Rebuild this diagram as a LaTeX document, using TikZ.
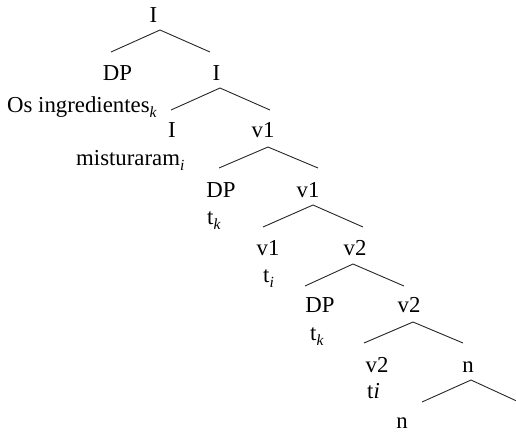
\documentclass[tikz,border=0pt]{standalone}
\usepackage{fontspec}
\setmainfont{Liberation Serif}
\newcommand{\lowsub}[1]{\raisebox{-0.22em}{\fontsize{15.5}{15.5}\selectfont\itshape #1}}
\begin{document}
\begin{tikzpicture}[x=1pt,y=-1pt,
  lab/.style={inner sep=0pt,anchor=base,font=\fontsize{22.8}{26}\selectfont},
  labw/.style={inner sep=0pt,anchor=base west,font=\fontsize{22.8}{26}\selectfont},
  branch/.style={draw=black!85,line width=0.9pt}]
\useasboundingbox (0,0) rectangle (516,432);
\clip (0,0) rectangle (516,432);
% labels
\node[lab] (I0) at (153.5,22.5) {I};
\node[lab] (DP1) at (117.5,80.5) {DP};
\node[lab] (I1) at (216.5,80.5) {I};
\node[labw] (os) at (7,112) {Os ingredientes\lowsub{k}};
\node[lab] (I2) at (172,137.5) {I};
\node[lab] (v12) at (263,137.5) {v1};
\node[labw] (mis) at (76,165) {misturaram\lowsub{i}};
\node[lab] (DP3) at (221,197.5) {DP};
\node[lab] (v13) at (308,197.5) {v1};
\node[labw] (tk3) at (207,224) {t\lowsub{k}};
\node[lab] (v14) at (268,255.5) {v1};
\node[lab] (v24) at (355,255.5) {v2};
\node[labw] (ti4) at (263,282) {t\lowsub{i}};
\node[lab] (DP5) at (320,312.5) {DP};
\node[lab] (v25) at (409,312.5) {v2};
\node[labw] (tk5) at (310,340) {t\lowsub{k}};
\node[lab] (v26) at (377,372.5) {v2};
\node[lab] (n6) at (468,372.5) {n};
\node[labw] (ti6) at (367,398) {t\textit{i}};
\node[lab] (n7) at (402,428) {n};
% branch points
\coordinate (a0) at (160,30);  \coordinate (l0) at (111,52);  \coordinate (r0) at (210,52);
\coordinate (a1) at (220,88);  \coordinate (l1) at (171,110); \coordinate (r1) at (270,110);
\coordinate (a2) at (268,147); \coordinate (l2) at (219,168); \coordinate (r2) at (318,168);
\coordinate (a3) at (313,205); \coordinate (l3) at (263,227); \coordinate (r3) at (363,227);
\coordinate (a4) at (353,264); \coordinate (l4) at (305,286); \coordinate (r4) at (404,286);
\coordinate (a5) at (413,322); \coordinate (l5) at (364,343); \coordinate (r5) at (463,343);
\coordinate (a6) at (471,380); \coordinate (l6) at (422,402); \coordinate (r6) at (521,403);
\foreach \i in {0,...,6}{
  \draw[branch] (l\i) -- (a\i) -- (r\i);
}
\end{tikzpicture}
\end{document}
